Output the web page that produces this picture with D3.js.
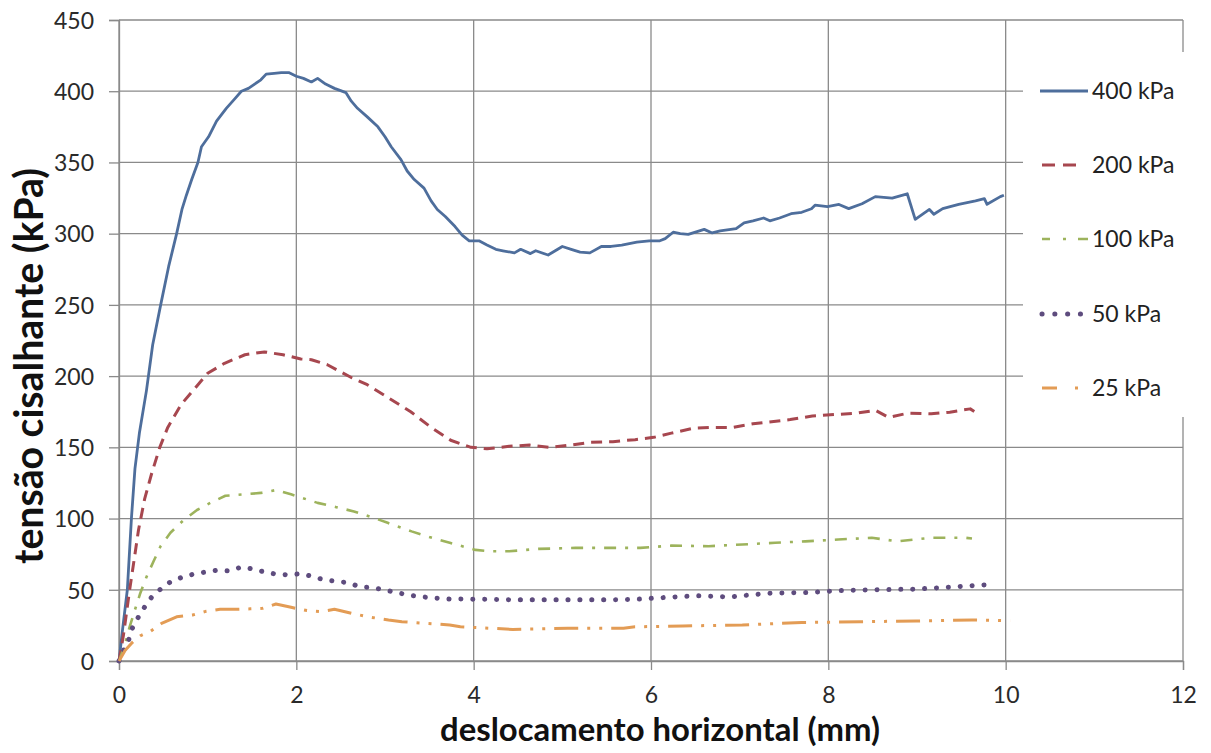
<!DOCTYPE html>
<html>
<head>
<meta charset="utf-8">
<script src="https://cdn.jsdelivr.net/npm/d3@7"></script>
<style>
html,body{margin:0;padding:0;background:#fff;}
svg{display:block;}
</style>
</head>
<body>
<svg id="chart" width="1211" height="753"></svg>
<script>
// ---- data ----
const xTicks = [0, 2, 4, 6, 8, 10, 12];
const yTicks = [0, 50, 100, 150, 200, 250, 300, 350, 400, 450];
const seriesNames = ["400 kPa", "200 kPa", "100 kPa", "50 kPa", "25 kPa"];

const s400 = [[0,0],[0.04,22],[0.094,50],[0.14,100],[0.18,135],[0.23,160],[0.31,190],[0.38,222],[0.47,250],[0.56,277],[0.65,300],[0.71,317],[0.76,327],[0.82,338],[0.89,350],[0.93,361],[1.01,368],[1.10,379],[1.21,388],[1.31,395],[1.38,400],[1.46,402],[1.53,405],[1.60,408],[1.66,412],[1.75,412.5],[1.83,413],[1.92,413],[2.0,410.5],[2.08,409],[2.17,406.5],[2.24,409],[2.33,405],[2.43,402],[2.56,399],[2.62,393],[2.69,388],[2.80,382],[2.92,375],[3.0,368],[3.07,361],[3.18,352],[3.25,344],[3.33,338],[3.44,332],[3.52,323],[3.59,317],[3.68,312],[3.79,305],[3.87,299],[3.95,295],[4.06,295],[4.15,292],[4.25,289],[4.33,288],[4.46,286.5],[4.53,289],[4.64,286],[4.70,288],[4.84,285],[4.92,288],[5.0,291],[5.1,289],[5.2,287],[5.31,286.5],[5.44,291],[5.55,291],[5.67,292],[5.84,294],[5.98,295],[6.1,295],[6.16,296.5],[6.25,301],[6.33,300],[6.42,299.5],[6.6,303],[6.69,300.5],[6.78,302],[6.96,303.5],[7.05,307.5],[7.15,309],[7.27,311],[7.34,309],[7.45,311],[7.58,314],[7.7,315],[7.81,317.5],[7.85,320],[7.99,319],[8.12,320.5],[8.23,317.6],[8.38,321],[8.53,326],[8.72,325],[8.89,328],[8.98,310],[9.14,317],[9.19,313.6],[9.29,317.6],[9.47,320.6],[9.66,323],[9.76,324.6],[9.79,320.6],[9.94,326],[9.98,327]];
const s200 = [[0,0],[0.05,18],[0.12,50],[0.18,75],[0.22,92],[0.29,114],[0.37,132],[0.46,150],[0.55,164],[0.70,180],[0.85,191],[1.0,202],[1.19,209],[1.42,215],[1.64,217],[1.85,215],[2.05,212],[2.17,211.5],[2.35,208],[2.62,199],[2.80,194],[3.03,185],[3.29,175],[3.52,164],[3.74,155],[3.97,150],[4.15,149],[4.4,150.7],[4.63,151.6],[4.86,150],[5.1,151.6],[5.32,153.5],[5.57,154],[5.82,155.4],[6.03,157],[6.23,160],[6.48,163.4],[6.69,164],[6.92,164],[7.15,166.5],[7.36,168],[7.57,169.5],[7.82,172],[8.07,173],[8.32,174],[8.53,176],[8.68,171],[8.9,174],[9.16,173.5],[9.37,174.7],[9.6,177],[9.65,175]];
const s100 = [[0,0],[0.06,10],[0.12,24],[0.18,36],[0.24,47.6],[0.31,59],[0.39,70],[0.47,80.7],[0.58,90],[0.73,99],[0.88,106],[1.03,111],[1.2,116],[1.41,117],[1.6,118],[1.77,120],[1.94,117],[2.24,111],[2.45,108],[2.65,105],[2.85,101],[3.03,97],[3.3,91],[3.5,87],[3.73,83],[4.02,78],[4.2,77],[4.4,77],[4.73,78.7],[5.15,79.4],[5.52,79.4],[5.88,79.4],[6.23,81],[6.65,80.6],[7.03,81.8],[7.4,83],[7.74,84],[8.11,85.3],[8.49,86.5],[8.78,84],[9.16,86.5],[9.55,86.5],[9.62,86]];
const s50 = [[0,0],[0.03,5],[0.1,13],[0.15,23],[0.22,31],[0.29,38],[0.37,45],[0.47,50.5],[0.59,56],[0.71,58.7],[0.84,61],[0.98,62.5],[1.11,63.7],[1.25,63.2],[1.38,66],[1.51,64.6],[1.64,62.5],[1.77,61],[1.92,60.4],[2.05,61.3],[2.18,59.4],[2.31,57],[2.45,56],[2.58,55],[2.72,52],[2.85,51.6],[2.99,50],[3.13,48],[3.3,46],[3.5,44.5],[3.73,43.5],[4.0,43.4],[4.5,43],[5.0,43],[5.5,43],[5.8,43.2],[6.0,44],[6.5,45.8],[6.9,45],[7.32,47.6],[7.74,48],[8.15,49.5],[8.57,50],[9.0,50.5],[9.4,52],[9.78,53.5]];
const s25 = [[0,0],[0.07,7.5],[0.15,13],[0.24,17.7],[0.36,21],[0.48,26.4],[0.65,31],[0.83,32.3],[0.97,34.7],[1.14,36.3],[1.33,36.3],[1.48,36.6],[1.62,37],[1.77,40],[1.94,37.7],[2.12,35.4],[2.28,34.7],[2.43,36.3],[2.62,33.5],[2.81,31],[3.04,28.8],[3.19,27.6],[3.45,26.5],[3.73,25.3],[3.85,24],[4.44,22.2],[5.06,23],[5.69,23],[5.82,24],[6.36,24.6],[7.03,25.3],[7.7,27],[8.36,27.6],[8.99,28.1],[9.62,28.8],[10.05,28.3]];

// ---- styles ----
const styles = [
  {color:"#4E6E9C", width:2.8, dash:null,           cap:"butt",  legDash:null,              lx1:1040, lx2:1088},
  {color:"#A7474F", width:3,   dash:"11,7",         cap:"butt",  legDash:"13,8",            lx1:1042, lx2:1077},
  {color:"#9DB35C", width:2.6, dash:"12,9,3,9",     cap:"butt",  legDash:"8,13,3,12,12",    lx1:1042, lx2:1088},
  {color:"#5E4C7E", width:5,   dash:"0.1,11.8",     cap:"round", legDash:"0.1,12.7",        lx1:1042, lx2:1081},
  {color:"#E39C55", width:3,   dash:"24,9,3,9,3,9", cap:"butt",  legDash:"15,18,3,100",     lx1:1042, lx2:1080}
];
const allSeries = [s400, s200, s100, s50, s25];

const svg = d3.select("#chart");
const margin = {left:119, top:20, right:1211-1183, bottom:753-661};
const W = 1211, H = 753;

const x = d3.scaleLinear().domain([0,12]).range([margin.left, W - margin.right]);
const y = d3.scaleLinear().domain([0,450]).range([H - margin.bottom, margin.top]);

const gridColor = "#8a8a8a";
const font = "Lato, 'Open Sans', sans-serif";

// gridlines
svg.append("g").selectAll("line.h").data(yTicks).join("line")
  .attr("x1", x(0)).attr("x2", x(12))
  .attr("y1", d => y(d)).attr("y2", d => y(d))
  .attr("stroke", gridColor).attr("stroke-width", 1.3);
svg.append("g").selectAll("line.v").data(xTicks).join("line")
  .attr("y1", y(0)).attr("y2", y(450))
  .attr("x1", d => x(d)).attr("x2", d => x(d))
  .attr("stroke", gridColor).attr("stroke-width", 1.3);

// axes
const xAxis = svg.append("g").attr("transform", `translate(0,${y(0)})`)
  .call(d3.axisBottom(x).tickValues(xTicks).tickSize(9).tickPadding(17).tickFormat(d3.format("d")));
const yAxis = svg.append("g").attr("transform", `translate(${x(0)},0)`)
  .call(d3.axisLeft(y).tickValues(yTicks).tickSize(10).tickPadding(15).tickFormat(d3.format("d")));
[xAxis, yAxis].forEach(g => {
  g.select(".domain").attr("stroke", gridColor).attr("stroke-width", 1.3);
  g.selectAll(".tick line").attr("stroke", gridColor).attr("stroke-width", 1.3);
  g.selectAll(".tick text").attr("fill", "#2a2a2a").style("font-family", font).style("font-size", "23px");
});
yAxis.selectAll(".tick text").attr("dy", "0.36em");

// lines
const line = d3.line().x(d => x(d[0])).y(d => y(d[1]));
allSeries.forEach((s, i) => {
  const st = styles[i];
  svg.append("path").datum(s)
    .attr("d", line)
    .attr("fill", "none")
    .attr("stroke", st.color)
    .attr("stroke-width", st.width)
    .attr("stroke-linejoin", "round")
    .attr("stroke-linecap", st.cap)
    .attr("stroke-dasharray", st.dash);
});

// legend
const lg = svg.append("g");
lg.append("rect").attr("x", 1023).attr("y", 52).attr("width", 170).attr("height", 365).attr("fill", "#fff");
const legY = [91, 165, 239, 314, 388];
seriesNames.forEach((name, i) => {
  const st = styles[i];
  lg.append("line")
    .attr("x1", st.lx1).attr("x2", st.lx2)
    .attr("y1", legY[i]).attr("y2", legY[i])
    .attr("stroke", st.color).attr("stroke-width", st.width)
    .attr("stroke-linecap", st.cap)
    .attr("stroke-dasharray", st.legDash);
  lg.append("text")
    .attr("x", 1092).attr("y", legY[i]).attr("dy", "0.36em")
    .attr("fill", "#222").style("font-family", font).style("font-size", "23px")
    .text(name);
});

// axis titles
const xt = svg.append("text")
  .attr("x", 660).attr("y", 741).attr("text-anchor", "middle")
  .attr("fill", "#111").style("font-family", font).style("font-weight", "bold").style("font-size", "26px")
  .text("deslocamento horizontal (mm)");
const xw = xt.node().getComputedTextLength();
xt.style("font-size", (26 * 440 / xw).toFixed(2) + "px");

const yt = svg.append("text")
  .attr("transform", "translate(43,366) rotate(-90)").attr("text-anchor", "middle")
  .attr("fill", "#111").style("font-family", font).style("font-weight", "bold").style("font-size", "26px")
  .text("tensão cisalhante (kPa)");
const yw = yt.node().getComputedTextLength();
yt.style("font-size", (26 * 396 / yw).toFixed(2) + "px");
</script>
</body>
</html>
